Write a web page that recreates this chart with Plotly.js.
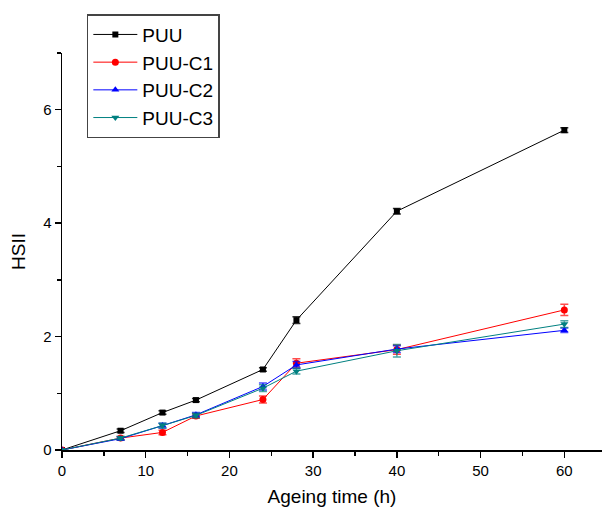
<!DOCTYPE html>
<html>
<head>
<meta charset="utf-8">
<script src="https://cdn.plot.ly/plotly-3.0.1.min.js"></script>
<style>html,body{margin:0;padding:0;background:#fff;}#chart{width:602px;height:513px;}</style>
</head>
<body>
<div id="chart"></div>
<script>
const hours = [0, 7, 12, 16, 24, 28, 40, 60];
const puu   = [0, 0.34, 0.66, 0.88, 1.42, 2.29, 4.21, 5.64];
const puuErr = [0, 0.03, 0.03, 0.03, 0.03, 0.06, 0.05, 0.04];
const puuC1 = [0, 0.21, 0.31, 0.60, 0.89, 1.53, 1.77, 2.47];
const puuC1Err = [0, 0.03, 0.04, 0.04, 0.06, 0.08, 0.08, 0.10];
const puuC2 = [0, 0.20, 0.43, 0.62, 1.12, 1.50, 1.78, 2.11];
const puuC2Err = [0, 0.03, 0.04, 0.04, 0.06, 0.06, 0.06, 0.04];
const puuC3 = [0, 0.21, 0.43, 0.61, 1.09, 1.39, 1.75, 2.22];
const puuC3Err = [0, 0.03, 0.04, 0.04, 0.06, 0.05, 0.11, 0.06];
const names = ['PUU', 'PUU-C1', 'PUU-C2', 'PUU-C3'];

const series = [
  {y: puu, e: puuErr, c: '#000000', ec: 'rgba(0,0,0,0.8)', s: 'square', sz: 6},
  {y: puuC1, e: puuC1Err, c: '#ff0000', ec: 'rgba(255,0,0,0.7)', s: 'circle', sz: 7},
  {y: puuC2, e: puuC2Err, c: '#0000ff', ec: 'rgba(0,0,255,0.7)', s: 'triangle-up', sz: 7},
  {y: puuC3, e: puuC3Err, c: '#008080', ec: 'rgba(0,128,128,0.7)', s: 'triangle-down', sz: 7}
];

const traces = series.map((d, i) => ({
  x: hours, y: d.y, name: names[i], type: 'scatter', mode: 'lines+markers',
  line: {color: d.c, width: 1},
  marker: {color: d.c, symbol: d.s, size: d.sz},
  error_y: {type: 'data', array: d.e, visible: true, color: d.ec, thickness: 1.5, width: 4}
}));

const font = {family: 'Liberation Sans, Arial, sans-serif', color: '#000'};
const layout = {
  width: 602, height: 513,
  margin: {l: 62, r: 0, t: 53, b: 63},
  paper_bgcolor: '#fff', plot_bgcolor: '#fff',
  font: Object.assign({size: 14}, font),
  showlegend: true,
  legend: {x: 0.046, y: 1.098, xanchor: 'left', yanchor: 'top',
    bordercolor: '#444', borderwidth: 1.5, bgcolor: 'rgba(255,255,255,0)',
    font: Object.assign({size: 19}, font), tracegroupgap: 0, itemwidth: 44},
  xaxis: {range: [0, 64.5], dtick: 10, tick0: 0, showgrid: false, zeroline: false,
    showline: true, linecolor: '#000', linewidth: 1.5, ticks: 'outside', ticklen: 6, tickwidth: 1.5, tickcolor: '#000',
    minor: {dtick: 5, ticks: 'outside', ticklen: 4, tickwidth: 1.5, tickcolor: '#000', showgrid: false},
    tickfont: Object.assign({size: 15}, font),
    title: {text: 'Ageing time (h)', font: Object.assign({size: 19}, font), standoff: 12}},
  yaxis: {range: [0, 7], dtick: 2, tick0: 0, showgrid: false, zeroline: false,
    showline: true, linecolor: '#000', linewidth: 1.5, ticks: 'outside', ticklen: 6, tickwidth: 1.5, tickcolor: '#000',
    minor: {dtick: 1, ticks: 'outside', ticklen: 4, tickwidth: 1.5, tickcolor: '#000', showgrid: false},
    tickfont: Object.assign({size: 15}, font),
    title: {text: 'HSII', font: Object.assign({size: 19}, font), standoff: 12}}
};

Plotly.newPlot('chart', traces, layout, {displayModeBar: false, staticPlot: true});
</script>
</body>
</html>
